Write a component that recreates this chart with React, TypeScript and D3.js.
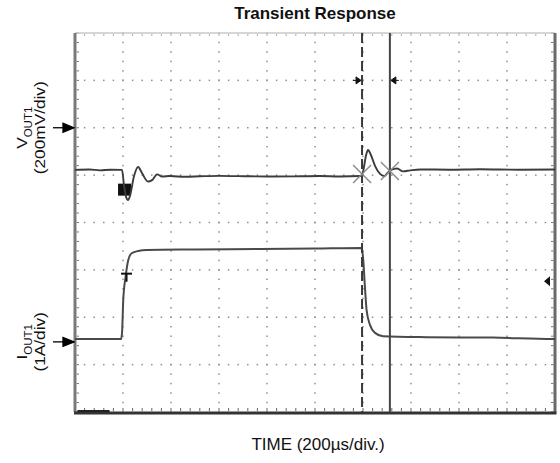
import React from "react";
import * as d3 from "d3";

// ---- data ----
const TITLE = "Transient Response";
const X_LABEL = "TIME (200µs/div.)";
const V_LABEL = ["V", "OUT1", "(200mV/div)"];
const I_LABEL = ["I", "OUT1", "(1A/div)"];

const X_DIVS = 10; // 200 µs per division
const Y_DIVS = 8;
const US_PER_DIV = 200;
const MV_PER_DIV = 200;
const A_PER_DIV = 1;

// reference (ground) markers, in divisions from screen centre
const V_REF_DIV = 2;
const I_REF_DIV = -2.52;
const TRIG_LEVEL_DIV = -1.24;

// V_OUT1 trace (µs, mV relative to its marker)
const V_TIME_US = [0, 60, 104, 150, 196, 204, 213, 221, 229, 246, 263, 279, 304, 321, 342, 363, 396, 460, 521, 600, 729, 820, 938, 1020, 1104, 1192, 1200, 1213, 1221, 1233, 1250, 1271, 1288, 1300, 1317, 1342, 1367, 1396, 1438, 1560, 1688, 1850, 2000];
const V_MV = [-178, -176, -180, -177, -178, -242, -292, -305, -288, -204, -166, -191, -227, -221, -197, -206, -204, -207, -205, -203, -205, -206, -205, -204, -206, -204, -186, -115, -94, -115, -161, -195, -204, -193, -178, -172, -184, -180, -176, -177, -175, -177, -176];

// I_OUT1 trace (µs, A)
const I_TIME_US = [0, 100, 192, 196, 201, 211, 222, 236, 264, 299, 500, 771, 1000, 1195, 1201, 1208, 1215, 1229, 1250, 1283, 1465, 1742, 1992, 2000];
const I_A = [0.06, 0.06, 0.06, 0.19, 0.88, 1.38, 1.73, 1.87, 1.92, 1.94, 1.95, 1.96, 1.97, 1.98, 1.73, 1.16, 0.67, 0.36, 0.19, 0.12, 0.10, 0.09, 0.06, 0.06];

// cursors (µs)
const CURSOR_DASHED_US = 1196;
const CURSOR_SOLID_US = 1312;
const TRIGGER_US = 196;

// ---- layout ----
const W = 560;
const H = 463;
const L = 75, R = 555, T = 33, B = 412;

export default function App() {
  const x = d3.scaleLinear().domain([0, X_DIVS * US_PER_DIV]).range([L, R]);
  const xd = d3.scaleLinear().domain([0, X_DIVS]).range([L, R]);
  const yd = d3.scaleLinear().domain([-Y_DIVS / 2, Y_DIVS / 2]).range([B, T]);
  const yV = (mv: number) => yd(V_REF_DIV + mv / MV_PER_DIV);
  const yI = (a: number) => yd(I_REF_DIV + a / A_PER_DIV);

  const vLine = d3
    .line<number>()
    .x((_, i) => x(V_TIME_US[i]))
    .y((d) => yV(d))
    .curve(d3.curveMonotoneX);
  const iLine = d3
    .line<number>()
    .x((_, i) => x(I_TIME_US[i]))
    .y((d) => yI(d))
    .curve(d3.curveMonotoneX);

  const interpV = (t: number) => {
    for (let i = 1; i < V_TIME_US.length; i++) {
      if (t <= V_TIME_US[i]) {
        const f = (t - V_TIME_US[i - 1]) / (V_TIME_US[i] - V_TIME_US[i - 1]);
        return V_MV[i - 1] + f * (V_MV[i] - V_MV[i - 1]);
      }
    }
    return V_MV[V_MV.length - 1];
  };

  const minorX = d3.range(0, X_DIVS + 0.001, 0.2);
  const minorY = d3.range(-Y_DIVS / 2, Y_DIVS / 2 + 0.001, 0.2);
  const majorX = d3.range(1, X_DIVS);
  const majorY = d3.range(-Y_DIVS / 2 + 1, Y_DIVS / 2);

  const font = "'Liberation Sans', Arial, Helvetica, sans-serif";
  const gridColor = "#8e8e8e";

  const xc1 = x(CURSOR_DASHED_US);
  const xc2 = x(CURSOR_SOLID_US);
  const markY = yd(3);

  const cross = (cx: number, cy: number, key: string) => (
    <g key={key} stroke="#8a8a8a" strokeWidth={1.4}>
      <line x1={cx - 9} y1={cy - 9} x2={cx + 9} y2={cy + 9} />
      <line x1={cx - 9} y1={cy + 9} x2={cx + 9} y2={cy - 9} />
    </g>
  );

  const vRefY = yd(V_REF_DIV);
  const iRefY = yd(I_REF_DIV);
  const trigY = yd(TRIG_LEVEL_DIV);
  const trigX = x(TRIGGER_US);

  return (
    <svg width={W} height={H} style={{ position: "absolute", left: 0, top: 0, background: "#fff" }}>
      <rect x={0} y={0} width={W} height={H} fill="#fff" />
      {/* dotted grid: vertical lines */}
      {majorX.map((i) =>
        minorY.map((j) => (
          <rect key={`v${i}_${j}`} x={xd(i) - 0.75} y={yd(j) - 0.75} width={1.5} height={1.5} fill={gridColor} />
        ))
      )}
      {/* dotted grid: horizontal lines */}
      {majorY.map((j) =>
        minorX.map((i) => (
          <rect key={`h${j}_${i}`} x={xd(i) - 0.75} y={yd(j) - 0.75} width={1.5} height={1.5} fill={gridColor} />
        ))
      )}
      {/* border minor ticks */}
      {minorY.map((j) => (
        <g key={`lt${j}`} stroke="#777" strokeWidth={1}>
          <line x1={L + 1.5} x2={L + 4} y1={yd(j)} y2={yd(j)} />
          <line x1={R - 4} x2={R - 1.5} y1={yd(j)} y2={yd(j)} />
        </g>
      ))}
      {minorX.map((i) => (
        <g key={`bt${i}`} stroke="#666" strokeWidth={1}>
          <line x1={xd(i)} x2={xd(i)} y1={B - 4} y2={B - 1} />
          <line x1={xd(i)} x2={xd(i)} y1={T + 1} y2={T + 3} stroke="#aaa" />
        </g>
      ))}
      {/* borders */}
      <line x1={L} x2={R} y1={T} y2={T} stroke="#c8c8c8" strokeWidth={1.5} />
      <line x1={L} x2={L} y1={T} y2={B} stroke="#7a7a7a" strokeWidth={3} />
      <line x1={R} x2={R} y1={T} y2={B} stroke="#6a6a6a" strokeWidth={3} />
      <line x1={L - 1} x2={R + 1.5} y1={B + 1} y2={B + 1} stroke="#333" strokeWidth={3} />
      <line x1={xd(0.05)} x2={xd(0.72)} y1={B - 1} y2={B - 1} stroke="#222" strokeWidth={2} />

      {/* trigger marker on V trace */}
      <rect x={trigX - 4} y={yV(-236)} width={13} height={12} fill="#111" />

      {/* traces */}
      <path d={iLine(I_A) || ""} fill="none" stroke="#4a4a4a" strokeWidth={2} />
      <path d={vLine(V_MV) || ""} fill="none" stroke="#3c3c3c" strokeWidth={1.9} />

      {/* T marker on current trace */}
      <g stroke="#111" strokeWidth={2}>
        <line x1={trigX - 1} x2={trigX + 10} y1={yI(1.44)} y2={yI(1.44)} />
        <line x1={trigX + 4.5} x2={trigX + 4.5} y1={yI(1.44)} y2={yI(1.27)} />
      </g>

      {/* cursors */}
      <line x1={xc1} x2={xc1} y1={T} y2={B} stroke="#3a3a3a" strokeWidth={2} strokeDasharray="10 4" />
      <line x1={xc2} x2={xc2} y1={T} y2={B} stroke="#444" strokeWidth={2} />
      {cross(xc1, yV(interpV(CURSOR_DASHED_US)), "c1")}
      {cross(xc2, yV(interpV(CURSOR_SOLID_US)), "c2")}
      {/* cursor arrows */}
      <g fill="#111" stroke="#111" strokeWidth={1}>
        <line x1={xc1 - 9} x2={xc1 - 2} y1={markY} y2={markY} />
        <path d={`M${xc1 - 1},${markY} L${xc1 - 6},${markY - 3.5} L${xc1 - 6},${markY + 3.5} Z`} />
        <line x1={xc2 + 2} x2={xc2 + 9} y1={markY} y2={markY} />
        <path d={`M${xc2 + 1},${markY} L${xc2 + 6},${markY - 3.5} L${xc2 + 6},${markY + 3.5} Z`} />
      </g>
      {/* trigger level marker */}
      <path d={`M${R - 11},${trigY} L${R - 5},${trigY - 5} L${R - 5},${trigY + 5} Z`} fill="#111" />

      {/* reference arrows */}
      <g fill="#000" stroke="#000" strokeWidth={1.3}>
        <line x1={L - 22} x2={L - 8} y1={vRefY} y2={vRefY} />
        <path d={`M${L - 1},${vRefY} L${L - 12},${vRefY - 4.5} L${L - 12},${vRefY + 4.5} Z`} />
        <line x1={L - 22} x2={L - 8} y1={iRefY} y2={iRefY} />
        <path d={`M${L - 1},${iRefY} L${L - 12},${iRefY - 4.5} L${L - 12},${iRefY + 4.5} Z`} />
      </g>

      {/* text */}
      <text x={315} y={19} textAnchor="middle" fontFamily={font} fontWeight="bold" fontSize={17} fill="#111">
        {TITLE}
      </text>
      <text x={318} y={450} textAnchor="middle" fontFamily={font} fontSize={17} fill="#111">
        {X_LABEL}
      </text>

      {[
        { lab: V_LABEL, cy: vRefY },
        { lab: I_LABEL, cy: iRefY },
      ].map(({ lab, cy }, k) => (
        <g key={k} transform={`translate(0,${cy}) rotate(-90)`} fontFamily={font} fill="#111">
          <g transform="scale(1.15,1)">
            <text x={0} y={27.5} textAnchor="middle" fontSize={15}>
              {lab[0]}
              <tspan fontSize={10} dy={5}>
                {lab[1]}
              </tspan>
            </text>
            <text x={0} y={45.5} textAnchor="middle" fontSize={15}>
              {lab[2]}
            </text>
          </g>
        </g>
      ))}
    </svg>
  );
}
